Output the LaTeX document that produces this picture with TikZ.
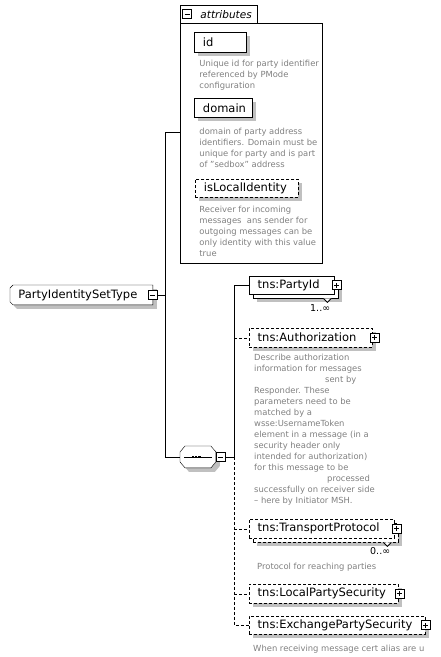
\documentclass[tikz,border=0pt]{standalone}
\usepackage{fontspec}
\setmainfont{DejaVu Sans}
\usetikzlibrary{shadows}
\pgfdeclarelayer{background}
\pgfsetlayers{background,main}
\definecolor{shd}{RGB}{192,192,192}
\definecolor{descgray}{RGB}{128,128,128}
\begin{document}
\begin{tikzpicture}[x=1pt,y=-1pt,line width=0.9pt,
  shad/.style={drop shadow={shadow xshift=4pt,shadow yshift=-4pt,fill=shd,opacity=1}},
  elem/.style={draw,fill=white,anchor=north west,inner xsep=8.5pt,inner ysep=0pt,align=left,font=\fontsize{11.5}{13}\selectfont,shad},
  stackelem/.style={draw,fill=white,anchor=north west,inner xsep=8.5pt,inner ysep=0pt,align=left,font=\fontsize{11.5}{13}\selectfont,
     drop shadow={shadow xshift=8pt,shadow yshift=-8pt,fill=shd,opacity=1},
     copy shadow={shadow xshift=4pt,shadow yshift=-4pt}},
  opt/.style={dash pattern=on 3pt off 2pt},
  desc/.style={anchor=north west,inner sep=0pt,align=left,text=descgray,font=\fontsize{8.4}{11}\selectfont},
  icon/.style={draw,fill=white,minimum size=9pt,inner sep=0pt,line width=0.8pt,solid},
  minusicon/.style={icon,path picture={\draw[line width=0.8pt] ([xshift=2pt]path picture bounding box.west) -- ([xshift=-2pt]path picture bounding box.east);}},
  plusicon/.style={icon,path picture={\draw[line width=0.8pt] ([xshift=2pt]path picture bounding box.west) -- ([xshift=-2pt]path picture bounding box.east) ([yshift=2pt]path picture bounding box.south) -- ([yshift=-2pt]path picture bounding box.north);}},
  mult/.style={anchor=base east,inner sep=0pt,font=\fontsize{9.5}{11}\selectfont},
]
\useasboundingbox (0,0) rectangle (441,657);

% attributes group
\node[draw,anchor=north west,minimum width=142pt,minimum height=240pt,inner sep=0pt] (attrs) at (180,23) {};
\draw (attrs.north west) -- ++(0,-18) -- ++(77,0) -- ++(0,18);
\node[minusicon] (attrm) at (187,14) {};
\node[anchor=west,inner sep=0pt,font=\fontsize{10.5}{12}\selectfont\itshape] (attrt) at (200,14.5) {attributes};

\node[elem,text width=35pt,minimum height=20pt] (id) at (194,32) {id};
\node[desc] (iddesc) at (199,60) {Unique id for party identifier\\referenced by PMode\\configuration};
\node[elem,text width=41pt,minimum height=19pt] (dom) at (194,98) {domain};
\node[desc] (domdesc) at (199,127.5) {domain of party address\\identifiers. Domain must be\\unique for party and is part\\of "sedbox" address};
\node[elem,opt,text width=86pt,minimum height=18pt] (lid) at (195,179) {isLocalIdentity};
\node[desc] (liddesc) at (199,205.5) {Receiver for incoming\\messages\ \ ans sender for\\outgoing messages can be\\only identity with this value\\true};

% root type
\node[anchor=north west,minimum width=142pt,minimum height=19pt,inner xsep=8pt,inner ysep=0pt,text width=126pt,align=left,font=\fontsize{11.5}{13}\selectfont] (pist) at (10,285) {PartyIdentitySetType};
% sequence compositor
\node[anchor=north west,minimum width=35pt,minimum height=21pt,inner sep=0pt] (seq) at (180,446) {};

\begin{pgfonlayer}{background}
\fill[shd] ([shift={(7,4)}]pist.north west) -- ([shift={(4,4)}]pist.north east) -- ([shift={(4,4)}]pist.south east) -- ([shift={(7,4)}]pist.south west) -- ([shift={(4,1)}]pist.south west) -- ([shift={(4,7)}]pist.north west) -- cycle;
\draw[fill=white] ([shift={(3,0)}]pist.north west) -- (pist.north east) -- (pist.south east) -- ([shift={(3,0)}]pist.south west) -- ([shift={(0,-3)}]pist.south west) -- ([shift={(0,3)}]pist.north west) -- cycle;
\fill[shd] ([shift={(9,4)}]seq.north west) -- ([shift={(-1,4)}]seq.north east) -- ([shift={(4,10)}]seq.north east) -- ([shift={(4,-2)}]seq.south east) -- ([shift={(-1,4)}]seq.south east) -- ([shift={(9,4)}]seq.south west) -- ([shift={(4,-2)}]seq.south west) -- ([shift={(4,10)}]seq.north west) -- cycle;
\draw[fill=white] ([shift={(5,0)}]seq.north west) -- ([shift={(-5,0)}]seq.north east) -- ([shift={(0,6)}]seq.north east) -- ([shift={(0,-6)}]seq.south east) -- ([shift={(-5,0)}]seq.south east) -- ([shift={(5,0)}]seq.south west) -- ([shift={(0,-6)}]seq.south west) -- ([shift={(0,6)}]seq.north west) -- cycle;
\end{pgfonlayer}
\draw ([xshift=4pt]seq.west) -- ([xshift=-4pt]seq.east);
\foreach \dx in {-5,-1.8,1.4} \fill ([shift={(\dx-1.3,-1.3)}]seq.center) rectangle ++(2.6,2.6);
\node[minusicon] (pistm) at (pist.east) {};
\node[minusicon,anchor=west] (seqm) at (seq.east) {};

% children
\node[stackelem,text width=68pt,minimum height=18pt] (pid) at (249,276) {tns:PartyId};
\draw[fill=white,line width=0.8pt] ([shift={(-11,4)}]pid.south east) -- ([shift={(-7,8)}]pid.south east) -- ([shift={(-3,4)}]pid.south east);
\node[plusicon] (pidp) at ([xshift=2pt]pid.east) {};
\node[mult] (pidm) at ([shift={(-4,17.5)}]pid.south east) {1..∞};

\node[elem,opt,text width=106pt,minimum height=19pt] (auth) at (249,328) {tns:Authorization};
\node[plusicon] (authp) at ([xshift=2pt]auth.east) {};
\node[desc] (authdesc) at (254,353.5) {Describe authorization\\information for messages\\\hspace*{71pt}sent by\\Responder. These\\parameters need to be\\matched by a\\wsse:UsernameToken\\element in a message (in a\\security header only\\intended for authorization)\\for this message to be\\\hspace*{73pt}processed\\successfully on receiver side\\– here by Initiator MSH.};

\node[stackelem,opt,text width=128pt,minimum height=19pt] (tp) at (249,519) {tns:TransportProtocol};
\draw[fill=white,line width=0.8pt] ([shift={(-11,4)}]tp.south east) -- ([shift={(-7,8)}]tp.south east) -- ([shift={(-3,4)}]tp.south east);
\node[plusicon] (tpp) at ([xshift=2pt]tp.east) {};
\node[mult] (tpm) at ([shift={(-4,16.5)}]tp.south east) {0..∞};
\node[desc] (tpdesc) at (257,562.5) {Protocol for reaching parties};

\node[elem,opt,text width=132pt,minimum height=19pt] (lps) at (249,584) {tns:LocalPartySecurity};
\node[plusicon] (lpsp) at ([xshift=1pt]lps.east) {};

\node[elem,opt,text width=159pt,minimum height=18pt] (eps) at (249,616) {tns:ExchangePartySecurity};
\node[plusicon] (epsp) at ([xshift=0pt]eps.east) {};
\node[desc] (epsdesc) at (253,645) {When receiving message cert alias are u};

% connectors
\coordinate (xl) at (165,132);
\coordinate (xr) at (234,0);
\draw (attrs.west |- xl) -- (xl) -- (xl |- seq.west) -- (seq.west);
\draw (pistm.east) -- (pistm.east -| xl);
\draw (seqm.east) -- (seqm.east -| xr);
\draw (pid.west) -- (pid.west -| xr) -- (seqm.east -| xr);
\draw[opt] (seqm.east -| xr) -- (eps.west -| xr) -- (eps.west);
\draw[opt] (auth.west -| xr) -- (auth.west);
\draw[opt] (tp.west -| xr) -- (tp.west);
\draw[opt] (lps.west -| xr) -- (lps.west);
\end{tikzpicture}
\end{document}
